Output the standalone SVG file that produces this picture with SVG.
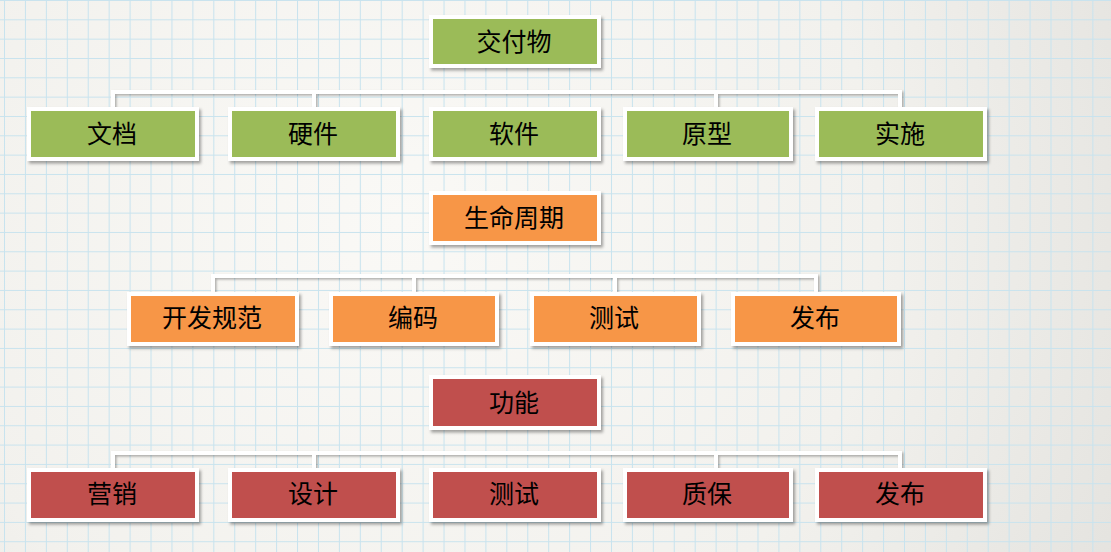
<svg xmlns="http://www.w3.org/2000/svg" width="1111" height="552" viewBox="0 0 1111 552">
<defs>
<radialGradient id="bg" cx="400" cy="220" r="800" gradientUnits="userSpaceOnUse">
<stop offset="0" stop-color="#faf9f6"/>
<stop offset="0.6" stop-color="#f2f1ed"/>
<stop offset="1" stop-color="#e4e3df"/>
</radialGradient>
<pattern id="grid" x="4" y="0" width="20.93" height="19.33" patternUnits="userSpaceOnUse">
<path d="M0.5 0 V19.33 M0 0.5 H20.93" fill="none" stroke="#c8e3ee" stroke-width="1.1"/>
</pattern>
<filter id="sh" x="-10%" y="-30%" width="130%" height="170%">
<feDropShadow dx="2" dy="2.5" stdDeviation="1.6" flood-color="#000" flood-opacity="0.35"/>
</filter>
<filter id="lsh" x="-5%" y="-50%" width="110%" height="200%">
<feDropShadow dx="1.5" dy="1.5" stdDeviation="1" flood-color="#000" flood-opacity="0.3"/>
</filter>
</defs>
<style>
.box{stroke:#fff;stroke-width:4;filter:url(#sh)}
.g{fill:#9bbb59}
.o{fill:#f79646}
.r{fill:#c0504d}
.t{font-family:"Noto Sans CJK SC","Noto Sans",sans-serif;font-size:25px;fill:#000;text-anchor:middle}
.c{fill:none;stroke:#fff;stroke-width:4;stroke-linejoin:miter;filter:url(#lsh)}
</style>
<rect width="1111" height="552" fill="url(#bg)"/>
<rect width="1111" height="552" fill="url(#grid)"/>
<g id="connectors">
<path class="c" d="M515 68 V109"/>
<path class="c" d="M113 109 V92 H900 V109 M314 92 V109 M716 92 V109"/>
<path class="c" d="M515 245 V276"/>
<path class="c" d="M213 294 V276 H816 V294 M414 276 V294 M615 276 V294"/>
<path class="c" d="M515 430 V470"/>
<path class="c" d="M113 470 V453 H900 V470 M314 453 V470 M716 453 V470"/>
</g>
<g id="n-jiaofuwu"><rect class="box g" x="431" y="17" width="168" height="49"/><text class="t" x="514" y="51">交付物</text></g>
<g id="n-wendang"><rect class="box g" x="29" y="109" width="168" height="50"/><text class="t" x="112" y="143">文档</text></g>
<g id="n-yingjian"><rect class="box g" x="230" y="109" width="168" height="50"/><text class="t" x="313" y="143">硬件</text></g>
<g id="n-ruanjian"><rect class="box g" x="431" y="109" width="168" height="50"/><text class="t" x="514" y="143">软件</text></g>
<g id="n-yuanxing"><rect class="box g" x="625" y="109" width="166" height="50"/><text class="t" x="707" y="143">原型</text></g>
<g id="n-shishi"><rect class="box g" x="817" y="109" width="168" height="50"/><text class="t" x="900" y="143">实施</text></g>
<g id="n-shengming"><rect class="box o" x="431" y="193" width="168" height="50"/><text class="t" x="514" y="227">生命周期</text></g>
<g id="n-kaifa"><rect class="box o" x="129" y="294" width="168" height="50"/><text class="t" x="212" y="327">开发规范</text></g>
<g id="n-bianma"><rect class="box o" x="331" y="294" width="166" height="50"/><text class="t" x="413" y="327">编码</text></g>
<g id="n-ceshi1"><rect class="box o" x="532" y="294" width="167" height="50"/><text class="t" x="614" y="327">测试</text></g>
<g id="n-fabu1"><rect class="box o" x="733" y="294" width="166" height="50"/><text class="t" x="815" y="327">发布</text></g>
<g id="n-gongneng"><rect class="box r" x="431" y="377" width="168" height="51"/><text class="t" x="514" y="412">功能</text></g>
<g id="n-yingxiao"><rect class="box r" x="29" y="470" width="168" height="50"/><text class="t" x="112" y="503">营销</text></g>
<g id="n-sheji"><rect class="box r" x="230" y="470" width="168" height="50"/><text class="t" x="313" y="503">设计</text></g>
<g id="n-ceshi2"><rect class="box r" x="431" y="470" width="168" height="50"/><text class="t" x="514" y="503">测试</text></g>
<g id="n-zhibao"><rect class="box r" x="625" y="470" width="166" height="50"/><text class="t" x="707" y="503">质保</text></g>
<g id="n-fabu2"><rect class="box r" x="817" y="470" width="168" height="50"/><text class="t" x="900" y="503">发布</text></g>
</svg>
